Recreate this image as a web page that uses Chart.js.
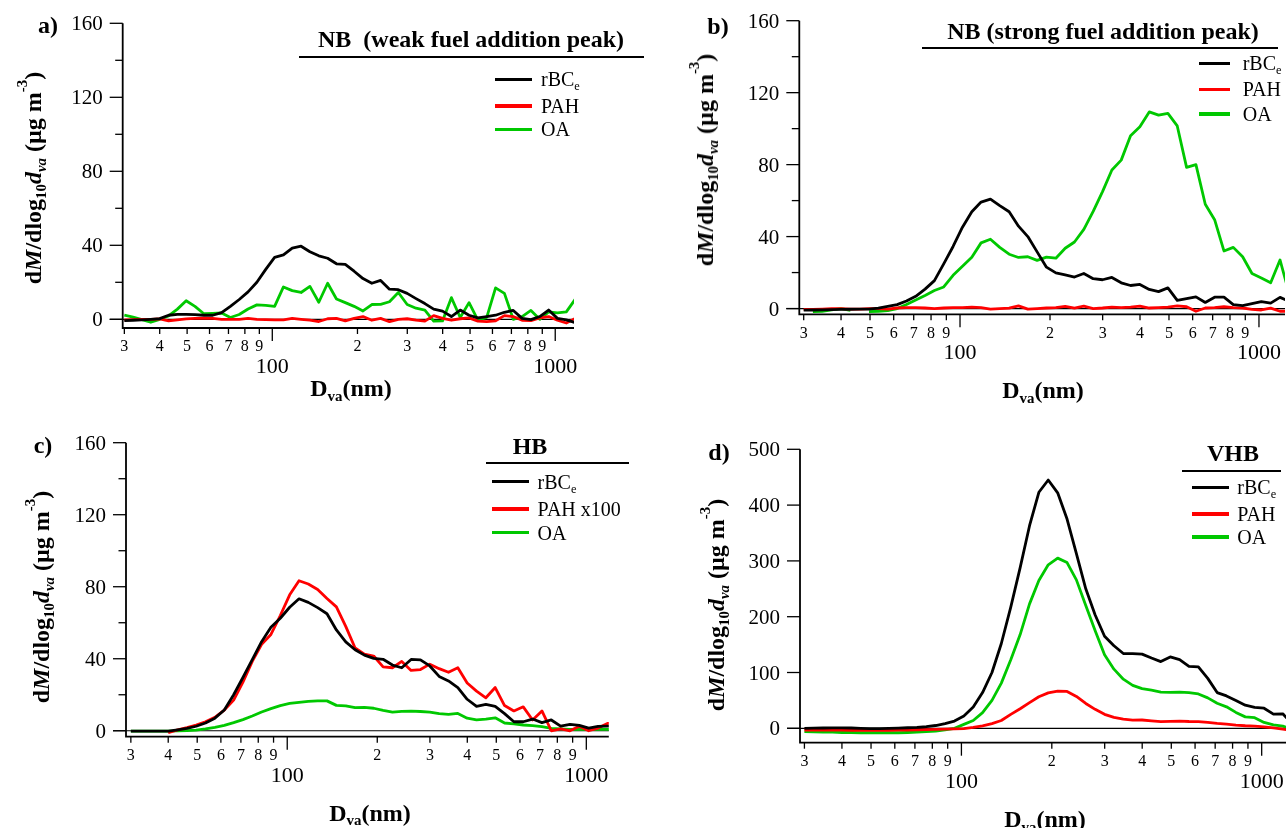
<!DOCTYPE html>
<html>
  <head>
    <meta charset="utf-8">
    <title>Mass size distributions</title>
    <style>
      body { margin: 0; background: #fff; }
      #fig { position: relative; width: 1287px; height: 828px; overflow: hidden; font-family: 'Liberation Serif', 'Times New Roman', serif; color: #000; }
      #fig canvas { position: absolute; }
      .c { position: absolute; transform: translate(-50%, -50%); white-space: nowrap; line-height: 1; }
      .bold { font-weight: bold; font-size: 24px; }
      .ytl { position: absolute; transform: translate(-50%, -50%) rotate(-90deg); white-space: nowrap; line-height: 1; font-weight: bold; font-size: 24px; }
      .rule { position: absolute; height: 2px; background: #000; }
      .key { position: absolute; height: 3.5px; }
      .keytxt { position: absolute; transform: translate(0, -50%); white-space: nowrap; line-height: 1; font-size: 20px; }
      .s { font-size: 0.62em; position: relative; top: 0.32em; line-height: 0; }
      .p { font-size: 0.62em; position: relative; top: -0.95em; line-height: 0; }
    </style>
  </head>
  <body>
    <div id="fig">
      <canvas id="chart-a" width="645" height="414" style="left:0;top:0"></canvas>
      <canvas id="chart-b" width="642" height="414" style="left:645px;top:0"></canvas>
      <canvas id="chart-c" width="645" height="414" style="left:0;top:414px"></canvas>
      <canvas id="chart-d" width="642" height="414" style="left:645px;top:414px"></canvas>
    </div>

    <script src="https://cdn.jsdelivr.net/npm/chart.js@4"></script>
    <script type="text/javascript">
      // vacuum aerodynamic diameter (nm), shared by every series
      const dva = [30.0, 32.2, 34.6, 37.2, 40.0, 43.0, 46.2, 49.6, 53.3, 57.3,
        61.6, 66.2, 71.1, 76.4, 82.1, 88.2, 94.8, 101.9, 109.5, 117.6,
        126.4, 135.8, 146.0, 156.9, 168.6, 181.1, 194.6, 209.2, 224.8, 241.5,
        259.5, 278.9, 299.7, 322.1, 346.1, 371.9, 399.6, 429.5, 461.5, 495.9,
        532.9, 572.6, 615.4, 661.3, 710.6, 763.6, 820.6, 881.8, 947.6, 1018.3,
        1094.3, 1175.9, 1263.6];

      // a) NB, weak fuel addition peak
      const nbWeakRbc = [-0.7, -0.5, -0.3, 0, 0.4, 2.2, 2.7, 2.7, 2.5, 2.2,
        2.2, 3.6, 7, 10.7, 14.8, 20, 27, 33.5, 34.8, 38.5,
        39.5, 36.5, 34.3, 33, 30, 29.7, 26, 22, 19.5, 21,
        16.3, 16, 14, 11.2, 8.5, 5.5, 4.4, 1.5, 5, 2.2,
        0.8, 1.5, 2.2, 3.8, 4.8, 0.5, -0.2, 1.5, 5, 0.5,
        -0.3, -1.8, -2];
      const nbWeakPah = [-0.3, -0.2, 0, 0, 0.2, -0.8, -0.3, 0.2, 0.5, 0.6,
        0.5, 0, 0, 0, 0.5, 0, -0.2, -0.3, -0.3, 0.5,
        0, -0.5, -1.2, 0.3, 0.5, -0.8, 0.5, 1.5, -0.5, 0.5,
        -1.3, 0, 0.3, -0.5, -1, 2, 0.5, -0.5, 0.3, 0.8,
        -1, -1.2, -0.8, 2, 1.5, -0.5, -0.7, 0.8, 1.5, -0.5,
        -2, 0.5, 3.5];
      const nbWeakOa = [2.2, 1.2, -0.2, -1.6, 0, 1.8, 5.5, 10, 7, 3,
        3.2, 3.4, 1, 2.6, 5.6, 7.8, 7.5, 7, 17.5, 15.5,
        14.5, 17.8, 9.2, 19.5, 11, 9, 7, 4.5, 8, 8.1,
        9.5, 14.5, 8, 6, 5, -1, -0.9, 11.7, 1, 9,
        -0.5, 1, 17, 14, 0, 1.5, 4.8, 0, 4, 3.5,
        4, 10.8, 10];

      // b) NB, strong fuel addition peak
      const nbStrongRbc = [-0.9, -0.8, -0.7, -0.6, -0.5, -0.4, -0.3, -0.3, 0.2, 1.2,
        2.2, 4.2, 6.8, 10.8, 15.5, 24.8, 34.5, 45.2, 53.8, 59.2,
        60.8, 57.2, 53.8, 45.8, 40, 31.5, 23, 19.8, 18.7, 17.5,
        19.5, 16.6, 16, 17.3, 14.3, 12.8, 13.4, 10.6, 9.4, 11.5,
        4.5, 5.5, 6.5, 3.4, 6.3, 6.3, 2.2, 1.6, 2.7, 3.8,
        3, 6.2, 4];
      const nbStrongPah = [-0.5, -0.5, -0.3, 0, 0, -0.3, -0.3, 0, 0, -0.3,
        0.3, 0.5, 0.5, 0.3, 0, 0.3, 0.5, 0.5, 0.8, 0.5,
        -0.3, 0, 0.2, 1.5, -0.3, 0, 0.3, 0.5, 1.2, 0.2,
        1.3, 0, 0.3, 0.8, 0.5, 0.8, 1.3, 0.3, 0.5, 0.8,
        1.5, 1, -1.5, 0.3, 0.5, 1, 0.5, 0.3, -0.5, -0.8,
        0.2, -1.5, -1.5];
      const nbStrongOa = [null, -1.7, -1.5, -0.8, 0, -1, null, -1.7, -1.5, -1.2,
        0, 2.3, 4.8, 7.3, 10, 12, 18.5, 23.5, 28.5, 36.5,
        38.5, 34, 30.2, 28.4, 28.8, 26.8, 28.6, 28, 33.5, 37,
        44, 54, 65, 77, 82.5, 96, 101, 109.3, 107.5, 108.5,
        101.5, 78.5, 80, 58, 49.4, 32, 34, 28.8, 19.5, 17,
        14.3, 27, 8];

      // c) HB
      const hbRbc = [-0.2, -0.2, -0.2, -0.2, -0.2, 0.5, 1.3, 2.5, 4.3, 7,
        11.5, 20, 29.6, 39.5, 49.5, 57.5, 62.5, 68.6, 73.3, 71.3,
        68.4, 65, 56, 49.4, 45, 42, 40.2, 39.7, 36.5, 35,
        39.6, 39.4, 36, 30.2, 27.7, 24, 17.5, 13.5, 14.6, 13.5,
        9.5, 5, 5, 6.5, 4.5, 6, 2.6, 3.6, 3, 1.5,
        2.4, 2.6, 2.6];
      const hbPah100 = [null, null, null, null, -1.1, 0.5, 1.7, 3.1, 5, 7.5,
        11.5, 17, 27, 38.5, 48, 53.5, 64, 75.5, 83.3, 81.5,
        78.5, 73.5, 68.8, 58, 46, 42.5, 41.5, 35.5, 35, 38.5,
        33.5, 34, 37, 34.5, 32.5, 35, 26.5, 22, 18.3, 24,
        14, 11, 13.3, 6, 11, 0, 1, 0, 2.5, 0,
        1.5, 4.1, 4.1];
      const hbOa = [-0.2, -0.2, -0.2, -0.2, -0.2, -0.1, 0.1, 0.4, 1, 1.9,
        3, 4.5, 6.2, 8.2, 10.4, 12.3, 14, 15.2, 15.8, 16.3,
        16.6, 16.6, 14.1, 13.8, 12.8, 13, 12.5, 11.3, 10.4, 10.8,
        10.9, 10.7, 10.4, 9.5, 9.1, 9.6, 7, 6.1, 6.5, 7.2,
        4.3, 3.8, 3.2, 2.8, 2.3, 1.3, 1, 0.8, 0.8, 0.8,
        0.8, 0.8, 0.8];

      // d) VHB
      const vhbRbc = [0, 0.3, 0.5, 0.8, 0.8, 0.5, 0, -0.5, -0.5, 0,
        0.5, 1, 1.5, 3, 5, 8.5, 13, 22, 38, 64,
        100, 152, 217, 288, 363, 423, 445, 422, 375, 313,
        250, 203, 165, 148, 134, 134, 133, 126, 119.5, 128,
        123, 111, 110, 89.5, 64, 58, 50, 41.5, 37.4, 36,
        25.5, 26, 8];
      const vhbPah = [-3, -3, -3, -3.2, -3.2, -3.5, -3.5, -3.5, -3.5, -3.5,
        -3.2, -3, -2.8, -2.5, -2, -1.5, -1, -0.5, 1.5, 4.5,
        8.5, 14, 25, 35, 46, 56.5, 63.5, 66.5, 66, 57,
        44.5, 34, 25, 19.5, 16.5, 14.8, 14.9, 13.5, 12, 12.5,
        13, 12.2, 12, 10.5, 8.8, 7.5, 5.8, 4.6, 3.8, 2.7,
        0.8, -1.5, -4];
      const vhbOa = [-6, -6.5, -7, -7, -7.5, -7.5, -8, -8, -8, -8,
        -8, -7.5, -7, -6, -5, -3, 0, 7, 14, 28,
        50, 81, 123, 168, 223, 265, 293, 305, 297, 266,
        220, 175, 132, 106, 88, 77, 71, 68.6, 65, 64.5,
        65, 64, 61.5, 54.5, 45, 38.5, 28.5, 20.5, 19, 10.5,
        6, 4, -2];

      // axis ticks
      const yTicksNB = [0, 20, 40, 60, 80, 100, 120, 140, 160];
      const yLabelsNB = [0, 40, 80, 120, 160];
      const yTicksVHB = [0, 100, 200, 300, 400, 500];
      const xMinorTicks = [30, 40, 50, 60, 70, 80, 90, 200, 300, 400, 500, 600, 700, 800, 900];
      const xMajorTicks = [100, 1000];

      const seriesColors = ['#000000', '#ff0000', '#00c800'];

      const igorAxes = {
        id: 'igorAxes',
        beforeDatasetsDraw(chart) {
          const { ctx, chartArea: area, scales } = chart;
          const y0 = scales.y.getPixelForValue(0);
          ctx.save();
          ctx.strokeStyle = '#000';
          ctx.lineWidth = 1.2;
          ctx.beginPath();
          ctx.moveTo(area.left - 13, y0);
          ctx.lineTo(area.right, y0);
          ctx.stroke();
          ctx.restore();
        },
        afterDatasetsDraw(chart) {
          const { ctx, chartArea: area, scales: { x, y } } = chart;
          const cfg = chart.options.plugins.igorAxes;
          ctx.save();
          ctx.strokeStyle = '#000';
          ctx.fillStyle = '#000';
          ctx.lineWidth = 1.8;
          ctx.beginPath();
          ctx.moveTo(area.left, y.getPixelForValue(y.max));
          ctx.lineTo(area.left, area.bottom);
          ctx.lineTo(area.right, area.bottom);
          ctx.stroke();

          ctx.lineWidth = 1.3;
          ctx.font = '21px "Liberation Serif"';
          ctx.textAlign = 'right';
          cfg.yTicks.forEach((v) => {
            const py = y.getPixelForValue(v);
            const major = cfg.yLabels.includes(v);
            ctx.beginPath();
            ctx.moveTo(area.left - (major ? 13 : 7.5), py);
            ctx.lineTo(area.left, py);
            ctx.stroke();
            if (major) ctx.fillText(String(v), area.left - 20, py + 7.1);
          });

          ctx.textAlign = 'center';
          ctx.font = '16px "Liberation Serif"';
          xMinorTicks.forEach((v) => {
            const px = x.getPixelForValue(v);
            ctx.beginPath();
            ctx.moveTo(px, area.bottom);
            ctx.lineTo(px, area.bottom + 6);
            ctx.stroke();
            ctx.fillText(String(v).charAt(0), px, area.bottom + 18 + 5.4);
          });
          ctx.font = '22px "Liberation Serif"';
          xMajorTicks.forEach((v) => {
            const px = x.getPixelForValue(v);
            ctx.beginPath();
            ctx.moveTo(px, area.bottom);
            ctx.lineTo(px, area.bottom + 13);
            ctx.stroke();
            ctx.fillText(String(v), px, area.bottom + 37.5 + 7.5);
          });
          ctx.restore();
        },
      };

      function makePanel(id, series, xRange, yRange, pad, yTicks, yLabels) {
        return new Chart(document.getElementById(id), {
          type: 'line',
          data: {
            datasets: series.map((values, i) => ({
              data: dva.map((d, k) => ({ x: d, y: values[k] })),
              borderColor: seriesColors[i],
              borderWidth: 2.8,
              borderJoinStyle: 'round',
              pointRadius: 0,
              tension: 0,
              spanGaps: false,
            })),
          },
          options: {
            responsive: false,
            animation: false,
            events: [],
            layout: { padding: pad },
            scales: {
              x: { type: 'logarithmic', min: xRange[0], max: xRange[1], display: false },
              y: { type: 'linear', min: yRange[0], max: yRange[1], display: false },
            },
            plugins: {
              legend: { display: false },
              tooltip: { enabled: false },
              igorAxes: { yTicks, yLabels },
            },
          },
          plugins: [igorAxes],
        });
      }

      makePanel('chart-a', [nbWeakRbc, nbWeakPah, nbWeakOa], [29.6, 1165], [-4.7, 160],
        { left: 122.7, top: 23.3, right: 71, bottom: 86 }, yTicksNB, yLabelsNB);
      makePanel('chart-b', [nbStrongRbc, nbStrongPah, nbStrongOa], [29.0, 1222], [-3.2, 160],
        { left: 154.3, top: 20.7, right: 2, bottom: 99.7 }, yTicksNB, yLabelsNB);
      makePanel('chart-c', [hbRbc, hbPah100, hbOa], [28.9, 1189], [-3.3, 160],
        { left: 126, top: 28.7, right: 36.2, bottom: 91.3 }, yTicksNB, yLabelsNB);
      makePanel('chart-d', [vhbRbc, vhbPah, vhbOa], [29.0, 1205], [-25.8, 500],
        { left: 155, top: 35.3, right: 1, bottom: 85.3 }, yTicksVHB, yTicksVHB);

      // annotations: panel letters, titles, legends, axis titles
      const fig = document.getElementById('fig');
      function add(cls, html, left, top, extra) {
        const el = document.createElement('div');
        el.className = cls;
        el.innerHTML = html;
        el.style.left = left + 'px';
        el.style.top = top + 'px';
        if (extra) Object.assign(el.style, extra);
        fig.appendChild(el);
      }

      const yTitle = 'd<i>M</i>/dlog<span class="s">10</span><i>d</i><span class="s"><i>va</i></span> (µg m<span class="p">-3</span>)';
      const xTitle = 'D<span class="s">va</span>(nm)';
      const rbcLabel = 'rBC<span class="s">e</span>';

      const annotations = [
        { letter: 'a)', lp: [48, 25], title: 'NB&nbsp; (weak fuel addition peak)', tp: [471, 38.5], rule: [299, 644, 56.7],
          keys: [495, 532, 541, [79.3, 106, 129.3]], names: [rbcLabel, 'PAH', 'OA'], xt: [351, 388], yt: [33, 177.5] },
        { letter: 'b)', lp: [718, 26], title: 'NB (strong fuel addition peak)', tp: [1103, 31], rule: [922, 1278, 47.7],
          keys: [1199, 1230, 1242.7, [63.3, 89.3, 114]], names: [rbcLabel, 'PAH', 'OA'], xt: [1043, 390], yt: [705, 160] },
        { letter: 'c)', lp: [43, 445], title: 'HB', tp: [530, 446], rule: [486, 629, 462.7],
          keys: [492, 529, 537.6, [481.7, 509, 532.7]], names: [rbcLabel, 'PAH x100', 'OA'], xt: [370, 812.5], yt: [41, 596.5] },
        { letter: 'd)', lp: [719, 452], title: 'VHB', tp: [1233, 453.3], rule: [1182, 1281, 471],
          keys: [1191.7, 1228.7, 1237.3, [487.3, 514, 537]], names: [rbcLabel, 'PAH', 'OA'], xt: [1045, 819], yt: [716, 605] },
      ];

      annotations.forEach((p) => {
        add('c bold', p.letter, p.lp[0], p.lp[1]);
        add('c bold', p.title, p.tp[0], p.tp[1]);
        add('rule', '', p.rule[0], p.rule[2] - 1, { width: (p.rule[1] - p.rule[0]) + 'px' });
        const [x1, x2, tx, ys] = p.keys;
        ys.forEach((ky, i) => {
          add('key', '', x1, ky - 1.75, { width: (x2 - x1) + 'px', background: seriesColors[i] });
          add('keytxt', p.names[i], tx, ky);
        });
        add('c bold', xTitle, p.xt[0], p.xt[1]);
        add('ytl', yTitle, p.yt[0], p.yt[1]);
      });
    </script>
  </body>
</html>
